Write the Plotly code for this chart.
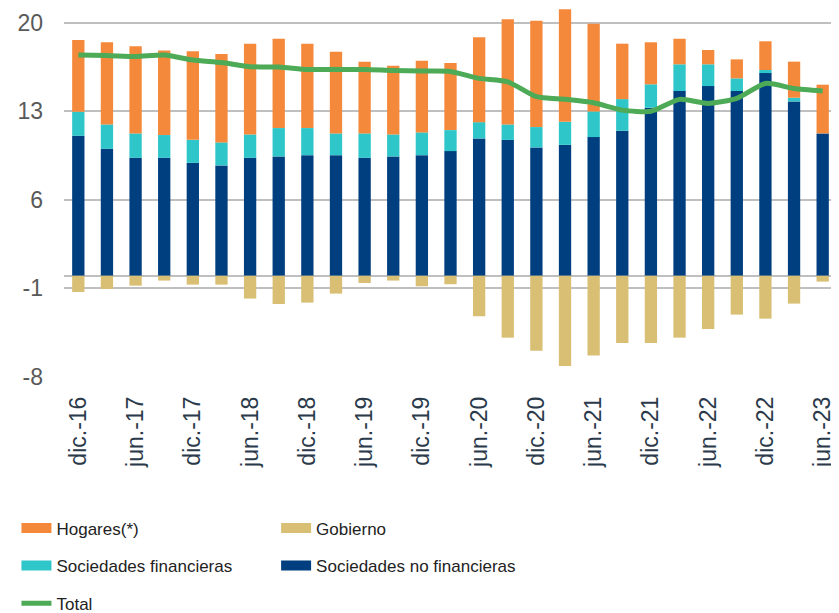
import plotly.graph_objects as go

periods = ["dic.-16", "mar.-17", "jun.-17", "sep.-17", "dic.-17", "mar.-18", "jun.-18", "sep.-18", "dic.-18",
           "mar.-19", "jun.-19", "sep.-19", "dic.-19", "mar.-20", "jun.-20", "sep.-20", "dic.-20",
           "mar.-21", "jun.-21", "sep.-21", "dic.-21", "mar.-22", "jun.-22", "sep.-22", "dic.-22",
           "mar.-23", "jun.-23"]

soc_no_fin = [11.06, 10.03, 9.32, 9.32, 8.92, 8.72, 9.32, 9.43, 9.53, 9.53, 9.32, 9.43, 9.53, 9.85,
              10.85, 10.74, 10.14, 10.35, 10.96, 11.46, 13.28, 14.6, 14.99, 14.6, 16.02, 13.78, 11.25]
soc_fin = [1.9, 1.93, 1.93, 1.8, 1.82, 1.82, 1.85, 2.24, 2.14, 1.72, 1.93, 1.74, 1.8, 1.66,
           1.29, 1.22, 1.61, 1.82, 2.03, 2.5, 1.85, 2.11, 1.72, 1.0, 0.24, 0.29, 0.0]
hogares = [5.67, 6.49, 6.88, 6.69, 7.0, 6.98, 7.17, 7.06, 6.67, 6.46, 5.67, 5.43, 5.67, 5.3,
           6.7, 8.31, 8.41, 8.89, 6.93, 4.38, 3.32, 2.02, 1.13, 1.5, 2.27, 2.85, 3.85]
gobierno = [-1.28, -1.04, -0.78, -0.38, -0.70, -0.70, -1.80, -2.23, -2.12, -1.41, -0.57, -0.38, -0.83, -0.67,
            -3.2, -4.89, -5.92, -7.14, -6.31, -5.32, -5.32, -4.89, -4.21, -3.07, -3.39, -2.2, -0.46]
total = [17.44, 17.41, 17.32, 17.45, 17.05, 16.85, 16.52, 16.5, 16.3, 16.3, 16.3, 16.22, 16.18, 16.15,
         15.6, 15.33, 14.15, 13.94, 13.67, 13.09, 13.0, 13.94, 13.62, 14.02, 15.2, 14.8, 14.6]

y_ticks = [-8, -1, 6, 13, 20]
y_tick_text = ["-8", "-1", "6", "13", "20"]
x_tick_labels = periods[::2]

C_NAVY = "#003F7F"
C_TEAL = "#2EC6C9"
C_ORANGE = "#F5893B"
C_GOLD = "#D9BF74"
C_GREEN = "#4DAA56"

Y_MIN, Y_MAX = -8, 21.16

fig = go.Figure()
for name, vals, col in [("Sociedades no financieras", soc_no_fin, C_NAVY),
                        ("Sociedades financieras", soc_fin, C_TEAL),
                        ("Hogares(*)", hogares, C_ORANGE),
                        ("Gobierno", gobierno, C_GOLD)]:
    fig.add_trace(go.Bar(x=periods, y=vals, name=name, marker=dict(color=col, line=dict(width=0)),
                         showlegend=False))

fig.add_trace(go.Scatter(x=periods, y=total, mode="lines", name="Total",
                         line=dict(color=C_GREEN, width=5, shape="spline", smoothing=0.6),
                         showlegend=False))

# legend entries (wide swatches)
legend_items = [("Hogares(*)", C_ORANGE, 14, "legend"),
                ("Sociedades financieras", C_TEAL, 14, "legend"),
                ("Total", C_GREEN, 5, "legend"),
                ("Gobierno", C_GOLD, 14, "legend2"),
                ("Sociedades no financieras", C_NAVY, 14, "legend2")]
for i, (name, col, w, lg) in enumerate(legend_items):
    fig.add_trace(go.Scatter(x=[None], y=[None], mode="lines", name=name,
                             line=dict(color=col, width=w), legend=lg, legendgroup=str(i)))

legfont = dict(family="Liberation Sans, Arial", size=17, color="#222222")

fig.update_layout(
    width=831, height=605,
    margin=dict(l=56, r=2.3, t=0, b=236.3, autoexpand=False),
    paper_bgcolor="white", plot_bgcolor="white",
    barmode="relative", bargap=0.57,
    xaxis=dict(type="category", categoryorder="array", categoryarray=periods,
               tickvals=x_tick_labels, ticktext=x_tick_labels, tickangle=-90,
               showgrid=False, showline=False, ticks="", ticklabelstandoff=14,
               tickfont=dict(family="Liberation Sans, Arial", size=23, color="#2B3A4A"),
               range=[-0.5, len(periods) - 0.5], automargin=False),
    xaxis2=dict(overlaying="x", anchor="free", position=-Y_MIN / (Y_MAX - Y_MIN),
                range=[-0.5, len(periods) - 0.5],
                tickvals=[i - 0.5 for i in range(len(periods) + 1)], showticklabels=False,
                ticks="outside", ticklen=7, tickwidth=1.5, tickcolor="#BFBFBF",
                showgrid=False, showline=False, zeroline=False),
    yaxis=dict(range=[Y_MIN, Y_MAX], tickvals=y_ticks, ticktext=y_tick_text,
               showgrid=True, gridcolor="#BFBFBF", gridwidth=1.5, automargin=False,
               zeroline=True, zerolinecolor="#BFBFBF", zerolinewidth=1.5, ticks="", ticklabelstandoff=20,
               tickfont=dict(family="Liberation Sans, Arial", size=23, color="#595959")),
    legend=dict(x=-0.0615, y=-0.3615, xanchor="left", yanchor="top", orientation="v",
                traceorder="grouped", tracegroupgap=12.5, font=legfont, bgcolor="rgba(0,0,0,0)"),
    legend2=dict(x=0.2744, y=-0.3615, xanchor="left", yanchor="top", orientation="v",
                 traceorder="grouped", tracegroupgap=12.5, font=legfont, bgcolor="rgba(0,0,0,0)"),
)

fig.write_html("out.html")
